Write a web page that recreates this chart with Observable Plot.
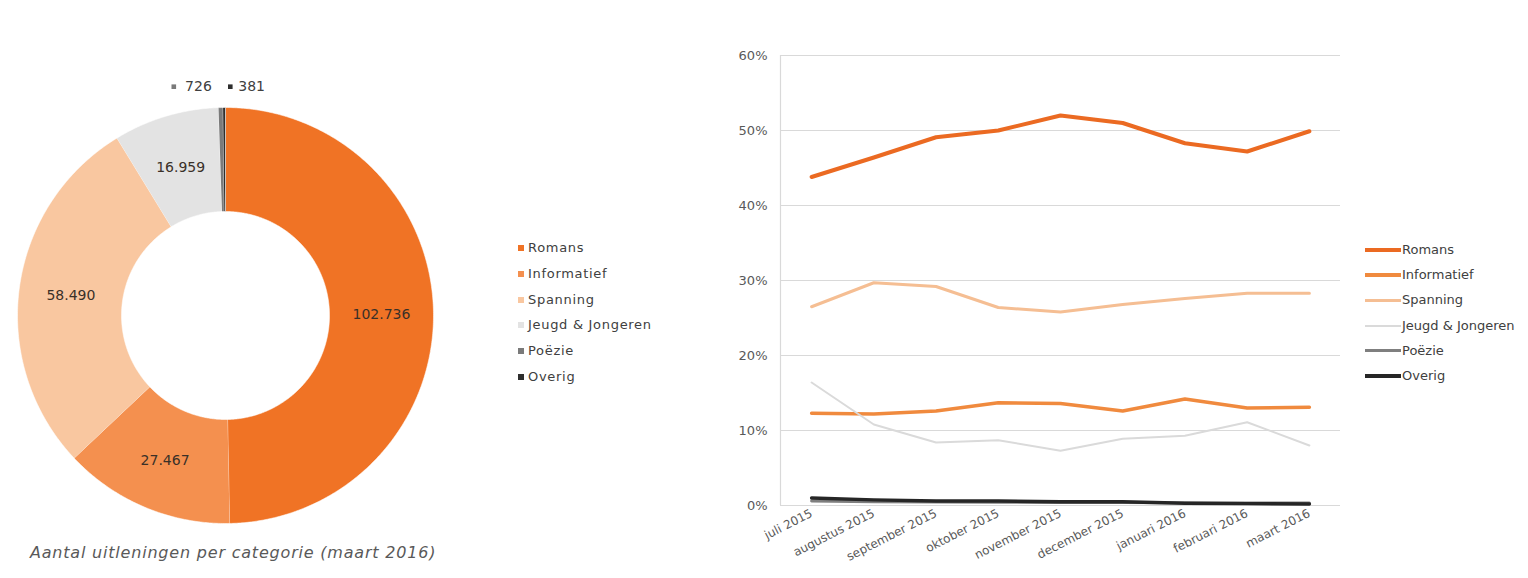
<!DOCTYPE html>
<html><head><meta charset="utf-8">
<script src="https://cdn.jsdelivr.net/npm/d3@7"></script>
<script src="https://cdn.jsdelivr.net/npm/@observablehq/plot@0.6"></script>
<style>
body{margin:0;background:#fff;width:1528px;height:578px;position:relative;overflow:hidden;font-family:"DejaVu Sans",Verdana,sans-serif;}
#donut{position:absolute;left:0;top:0;}
#lines{position:absolute;left:690px;top:0;}
.legend{position:absolute;font-size:13px;color:#404040;}
.legend .row{position:absolute;left:0;white-space:nowrap;height:16px;line-height:16px;}
.legend .sw{position:absolute;left:0;top:5px;width:6px;height:6px;}
.legend .ln{position:absolute;left:0;width:36px;}
#caption{position:absolute;left:30px;top:543px;font-style:italic;font-size:16px;letter-spacing:0.8px;color:#595959;white-space:nowrap;}
</style></head>
<body>
<div id="donut"></div>
<div id="lines"></div>
<div id="legL" class="legend" style="left:518px;top:240px;letter-spacing:0.7px"></div>
<div id="legR" class="legend" style="left:1365px;top:242px"></div>
<div id="caption">Aantal uitleningen per categorie (maart 2016)</div>
<script>
// ---- data ----
const categories = ["Romans", "Informatief", "Spanning", "Jeugd & Jongeren", "Poëzie", "Overig"];
const loans = [102736, 27467, 58490, 16959, 726, 381];
const donutColors = ["#F07325", "#F4904F", "#F9C7A0", "#E3E3E3", "#7A7A7A", "#2E2E2E"];

const months = ["juli 2015", "augustus 2015", "september 2015", "oktober 2015", "november 2015", "december 2015", "januari 2016", "februari 2016", "maart 2016"];
const romans      = [43.8, 46.4, 49.1, 50.0, 52.0, 51.0, 48.3, 47.2, 49.9];
const informatief = [12.3, 12.2, 12.6, 13.7, 13.6, 12.6, 14.2, 13.0, 13.1];
const spanning    = [26.5, 29.7, 29.2, 26.4, 25.8, 26.8, 27.6, 28.3, 28.3];
const jeugd       = [16.4, 10.8, 8.4, 8.7, 7.3, 8.9, 9.3, 11.1, 8.0];
const poezie      = [0.6, 0.5, 0.45, 0.45, 0.4, 0.4, 0.35, 0.35, 0.35];
const overig      = [1.0, 0.75, 0.6, 0.6, 0.5, 0.5, 0.3, 0.25, 0.2];
const lineColors = ["#EB6A22", "#F08A3E", "#F5BE93", "#DADADA", "#7F7F7F", "#262626"];
const lineWidths = [4, 3.5, 3, 2, 3, 3.5];
const yTicks = [0, 0.1, 0.2, 0.3, 0.4, 0.5, 0.6];

const nl = d3.formatLocale({decimal: ",", thousands: ".", grouping: [3], currency: ["€", ""]});
const fmt = nl.format(",d");

// ---- donut ----
const W = 700, H = 540, cx = 225, cy = 315, R = 208, hole = 0.5;
const total = d3.sum(loans);
let acc = 0;
const slices = categories.map((c, i) => {
  const a0 = acc / total * 2 * Math.PI; acc += loans[i];
  const a1 = acc / total * 2 * Math.PI;
  return {cat: c, value: loans[i], a0, a1, mid: (a0 + a1) / 2};
});
const pts = [];
for (const s of slices) {
  const n = Math.max(2, Math.ceil((s.a1 - s.a0) / (Math.PI / 360)));
  for (let k = 0; k <= n; k++) { const a = s.a0 + (s.a1 - s.a0) * k / n; pts.push({cat: s.cat, x: Math.sin(a), y: -Math.cos(a)}); }
  for (let k = n; k >= 0; k--) { const a = s.a0 + (s.a1 - s.a0) * k / n; pts.push({cat: s.cat, x: hole * Math.sin(a), y: -hole * Math.cos(a)}); }
}
const lr = (1 + hole) / 2;
const big = slices.filter(s => s.value > 5000);
const small = slices.filter(s => s.value <= 5000);
const sP = small[0], sO = small[1];
const outY = -1.1;

const donut = Plot.plot({
  width: W, height: H, margin: 0,
  x: {type: "linear", domain: [-cx / R, (W - cx) / R], range: [0, W], axis: null},
  y: {type: "linear", domain: [-cy / R, (H - cy) / R], range: [0, H], axis: null},
  color: {domain: categories, range: donutColors},
  style: {fontFamily: "'DejaVu Sans', Verdana, sans-serif", background: "transparent"},
  marks: [
    Plot.line(pts, {x: "x", y: "y", z: "cat", fill: "cat", stroke: "#fff", strokeWidth: 0.8, strokeOpacity: 0.7, curve: "linear"}),
    Plot.text(big, {x: d => lr * Math.sin(d.mid), y: d => -lr * Math.cos(d.mid), text: d => fmt(d.value), fontSize: 14, fill: "#3a3028", dy: 1}),
    Plot.dot([sP], {x: d => Math.sin(d.mid), y: outY, symbol: "square", r: 2.6, fill: "cat", stroke: "none", dx: -47}),
    Plot.text([sP], {x: d => Math.sin(d.mid), y: outY, text: d => fmt(d.value), textAnchor: "end", dx: -9, fontSize: 14, fill: "#404040"}),
    Plot.dot([sO], {x: d => Math.sin(d.mid), y: outY, symbol: "square", r: 2.6, fill: "cat", stroke: "none", dx: 6}),
    Plot.text([sO], {x: d => Math.sin(d.mid), y: outY, text: d => fmt(d.value), textAnchor: "start", dx: 14, fontSize: 14, fill: "#404040"})
  ]
});
document.getElementById("donut").append(donut);

// left legend
const legL = document.getElementById("legL");
categories.forEach((c, i) => {
  const row = document.createElement("div");
  row.className = "row"; row.style.top = (i * 25.8) + "px";
  row.innerHTML = `<span class="sw" style="background:${donutColors[i]}"></span><span style="margin-left:10px">${c.replace("&", "&amp;")}</span>`;
  legL.append(row);
});

// ---- lines ----
const seriesVals = [romans, informatief, spanning, jeugd, poezie, overig];
const long = [];
categories.forEach((c, s) => seriesVals[s].forEach((v, i) => long.push({cat: c, i, v: v / 100})));

const lines = Plot.plot({
  width: 838, height: 578,
  marginLeft: 90, marginRight: 188, marginTop: 55, marginBottom: 73,
  x: {type: "linear", domain: [-0.5, months.length - 0.5]},
  y: {type: "linear", domain: [0, 0.6]},
  color: {domain: categories, range: lineColors},
  style: {fontFamily: "'DejaVu Sans', Verdana, sans-serif", fontSize: "12px", color: "#595959", background: "transparent"},
  marks: [
    Plot.ruleY(yTicks, {stroke: "#d9d9d9", strokeWidth: 1.2}),
    Plot.ruleX([-0.5], {stroke: "#d9d9d9", strokeWidth: 1.2}),
    Plot.axisY({ticks: yTicks, tickFormat: d3.format(".0%"), tickSize: 0, tickPadding: 13, fontSize: 13, label: null}),
    Plot.axisX({ticks: d3.range(months.length), tickFormat: i => months[i], tickSize: 0, tickPadding: 7, tickRotate: -27, fontSize: 12, label: null}),
    ...categories.map((c, s) => Plot.line(long.filter(d => d.cat === c), {x: "i", y: "v", stroke: "cat", strokeWidth: lineWidths[s], curve: "linear", strokeLinejoin: "round"}))
  ]
});
document.getElementById("lines").append(lines);

// right legend
const legR = document.getElementById("legR");
categories.forEach((c, i) => {
  const row = document.createElement("div");
  row.className = "row"; row.style.top = (i * 25.2) + "px";
  const w = lineWidths[i];
  row.innerHTML = `<span class="ln" style="top:${8 - w / 2}px;height:${w}px;background:${lineColors[i]}"></span><span style="margin-left:37px">${c.replace("&", "&amp;")}</span>`;
  legR.append(row);
});
</script>
</body></html>
